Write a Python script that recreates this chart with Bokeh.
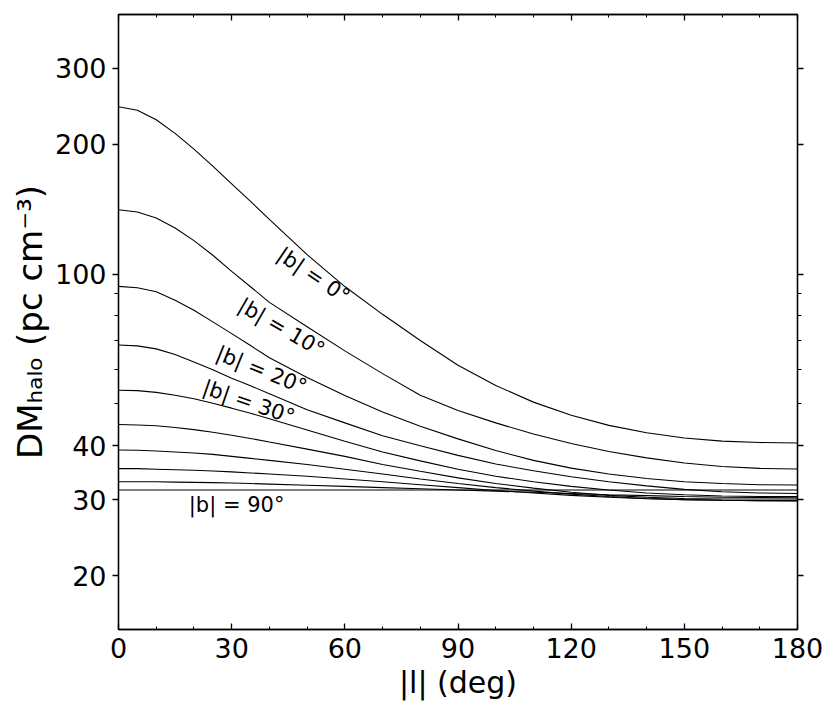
import math
from bokeh.plotting import figure
from bokeh.models import LinearAxis, LogAxis, FixedTicker, Range1d, CustomJSTickFormatter
from bokeh.core.properties import value
from bokeh.embed import file_html
from bokeh.resources import INLINE

# ---- data ----
l_deg = [0, 5, 10, 15, 20, 25, 30, 35, 40, 50, 60, 70, 80, 90, 100, 110, 120, 130, 140, 150, 160, 170, 180]

dm_b0 = [244.5, 240, 228, 212, 195, 178, 162, 147.5, 134, 111, 93.6, 80.7, 70.2, 61.5, 55.2, 50.5, 47.1, 44.6, 42.9, 41.7, 41.0, 40.7, 40.6]
dm_b10 = [141, 139.4, 135, 128, 119.6, 110.6, 101.5, 93.5, 86, 75.5, 66.4, 58.8, 52.4, 48.3, 45.2, 42.6, 40.5, 38.8, 37.5, 36.5, 35.8, 35.45, 35.35]
dm_b20 = [93.7, 93.0, 91, 87, 82.5, 77.5, 72.8, 68.3, 64, 57.6, 52.3, 47.9, 44.4, 41.5, 39.0, 37.0, 35.5, 34.4, 33.6, 33.0, 32.7, 32.5, 32.45]
dm_b30 = [68.5, 68.2, 67.1, 65.1, 62.6, 60.0, 57.4, 55.1, 52.8, 48.5, 45.2, 42.2, 40.0, 38.0, 36.3, 35.0, 33.9, 33.0, 32.3, 31.7, 31.3, 31.1, 31.0]
dm_b40 = [53.8, 53.7, 53.2, 52.4, 51.4, 50.2, 48.9, 47.6, 46.2, 43.5, 41.0, 38.7, 36.9, 35.3, 34.0, 33.0, 32.2, 31.6, 31.1, 30.8, 30.6, 30.5, 30.5]
dm_b50 = [44.8, 44.7, 44.5, 44.1, 43.6, 43.0, 42.3, 41.6, 40.8, 39.3, 37.8, 36.2, 34.9, 33.7, 32.7, 31.9, 31.2, 30.7, 30.4, 30.2, 30.1, 30.1, 30.1]
dm_b60 = [39.1, 39.05, 38.9, 38.7, 38.5, 38.2, 37.8, 37.4, 37.0, 36.2, 35.3, 34.4, 33.5, 32.7, 32.0, 31.4, 30.9, 30.5, 30.2, 30.0, 29.9, 29.85, 29.85]
dm_b70 = [35.4, 35.4, 35.3, 35.2, 35.1, 34.95, 34.8, 34.6, 34.4, 34.0, 33.5, 33.0, 32.5, 32.0, 31.5, 31.1, 30.7, 30.4, 30.15, 30.0, 29.9, 29.85, 29.8]
dm_b80 = [33.0, 33.0, 33.0, 32.95, 32.9, 32.85, 32.8, 32.7, 32.6, 32.4, 32.2, 32.0, 31.8, 31.6, 31.4, 31.2, 31.0, 30.8, 30.65, 30.5, 30.4, 30.35, 30.3]
dm_b90 = [31.6, 31.6, 31.6, 31.6, 31.6, 31.6, 31.6, 31.6, 31.6, 31.6, 31.6, 31.6, 31.6, 31.6, 31.6, 31.6, 31.6, 31.6, 31.6, 31.6, 31.6, 31.6, 31.6]

series = [dm_b0, dm_b10, dm_b20, dm_b30, dm_b40, dm_b50, dm_b60, dm_b70, dm_b80, dm_b90]

x_ticks = [0, 30, 60, 90, 120, 150, 180]
x_minor = [10, 20, 40, 50, 70, 80, 100, 110, 130, 140, 160, 170]
y_ticks = [20, 30, 40, 100, 200, 300]
y_minor = [50, 60, 70, 80, 90]

label_texts = ["|b| = 0°", "|b| = 10°", "|b| = 20°", "|b| = 30°", "|b| = 90°"]
label_l = [51.7, 43.2, 37.9, 34.5, 31.3]
label_dm = [99.3, 75.2, 59.9, 50.5, 29.1]
label_angle_deg = [-34, -30, -22, -19, 0]

FONT = "DejaVu Sans"

p = figure(width=824, height=716, x_range=Range1d(0, 180), y_range=Range1d(15, 400),
           y_axis_type="log", output_backend="svg", toolbar_location=None,
           min_border_left=118, min_border_right=27, min_border_top=14, min_border_bottom=87)
p.title.visible = False
p.grid.visible = False
p.outline_line_color = "black"
p.outline_line_width = 1.3
p.background_fill_color = "white"
p.border_fill_color = "white"

for s in series:
    p.line(l_deg, s, line_color="black", line_width=1.1)

p.text(x=label_l, y=label_dm, text=label_texts,
       angle=[math.radians(a) for a in label_angle_deg],
       text_font=value(FONT), text_font_size=value("21px"),
       text_align="center", text_baseline="middle", text_color="black")

xt = FixedTicker(ticks=x_ticks, minor_ticks=x_minor)
yt = FixedTicker(ticks=y_ticks, minor_ticks=y_minor)
blank = CustomJSTickFormatter(code="return '';")

def style_common(ax, labels):
    ax.axis_line_width = 1.3
    ax.axis_line_color = "black"
    ax.major_tick_line_width = 1.3
    ax.minor_tick_line_width = 1.0
    ax.major_tick_line_color = "black"
    ax.minor_tick_line_color = "black"
    ax.major_label_text_font = FONT
    ax.major_label_text_color = "black"
    ax.major_label_text_font_size = "27px"
    if not labels:
        ax.formatter = blank
        ax.major_label_standoff = 0

def style_x(ax, labels=True):
    ax.ticker = xt
    ax.major_tick_in = 6
    ax.major_tick_out = 0
    ax.minor_tick_in = 3
    ax.minor_tick_out = 0
    ax.major_label_standoff = 8
    style_common(ax, labels)

def style_y(ax, labels=True):
    ax.ticker = yt
    ax.major_tick_in = 0
    ax.major_tick_out = 6
    ax.minor_tick_in = 0
    ax.minor_tick_out = 4
    ax.major_label_standoff = 6
    style_common(ax, labels)

style_x(p.xaxis[0])
style_y(p.yaxis[0])
p.yaxis[0].formatter = CustomJSTickFormatter(code="return tick.toFixed(0);")

p.xaxis[0].axis_label = "|l| (deg)"
p.xaxis[0].axis_label_text_font = FONT
p.xaxis[0].axis_label_text_font_size = "30px"
p.xaxis[0].axis_label_text_font_style = "normal"
p.xaxis[0].axis_label_text_color = "black"
p.xaxis[0].axis_label_standoff = 4

p.yaxis[0].axis_label = "DMₕₐₗₒ (pc cm⁻³)"
p.yaxis[0].axis_label_text_font = FONT
p.yaxis[0].axis_label_text_font_size = "34px"
p.yaxis[0].axis_label_text_font_style = "normal"
p.yaxis[0].axis_label_text_color = "black"
p.yaxis[0].axis_label_standoff = 2

top = LinearAxis()
style_x(top, labels=False)
p.add_layout(top, "above")
right = LogAxis()
style_y(right, labels=False)
p.add_layout(right, "right")

open("out.html", "w").write(file_html(p, INLINE))
